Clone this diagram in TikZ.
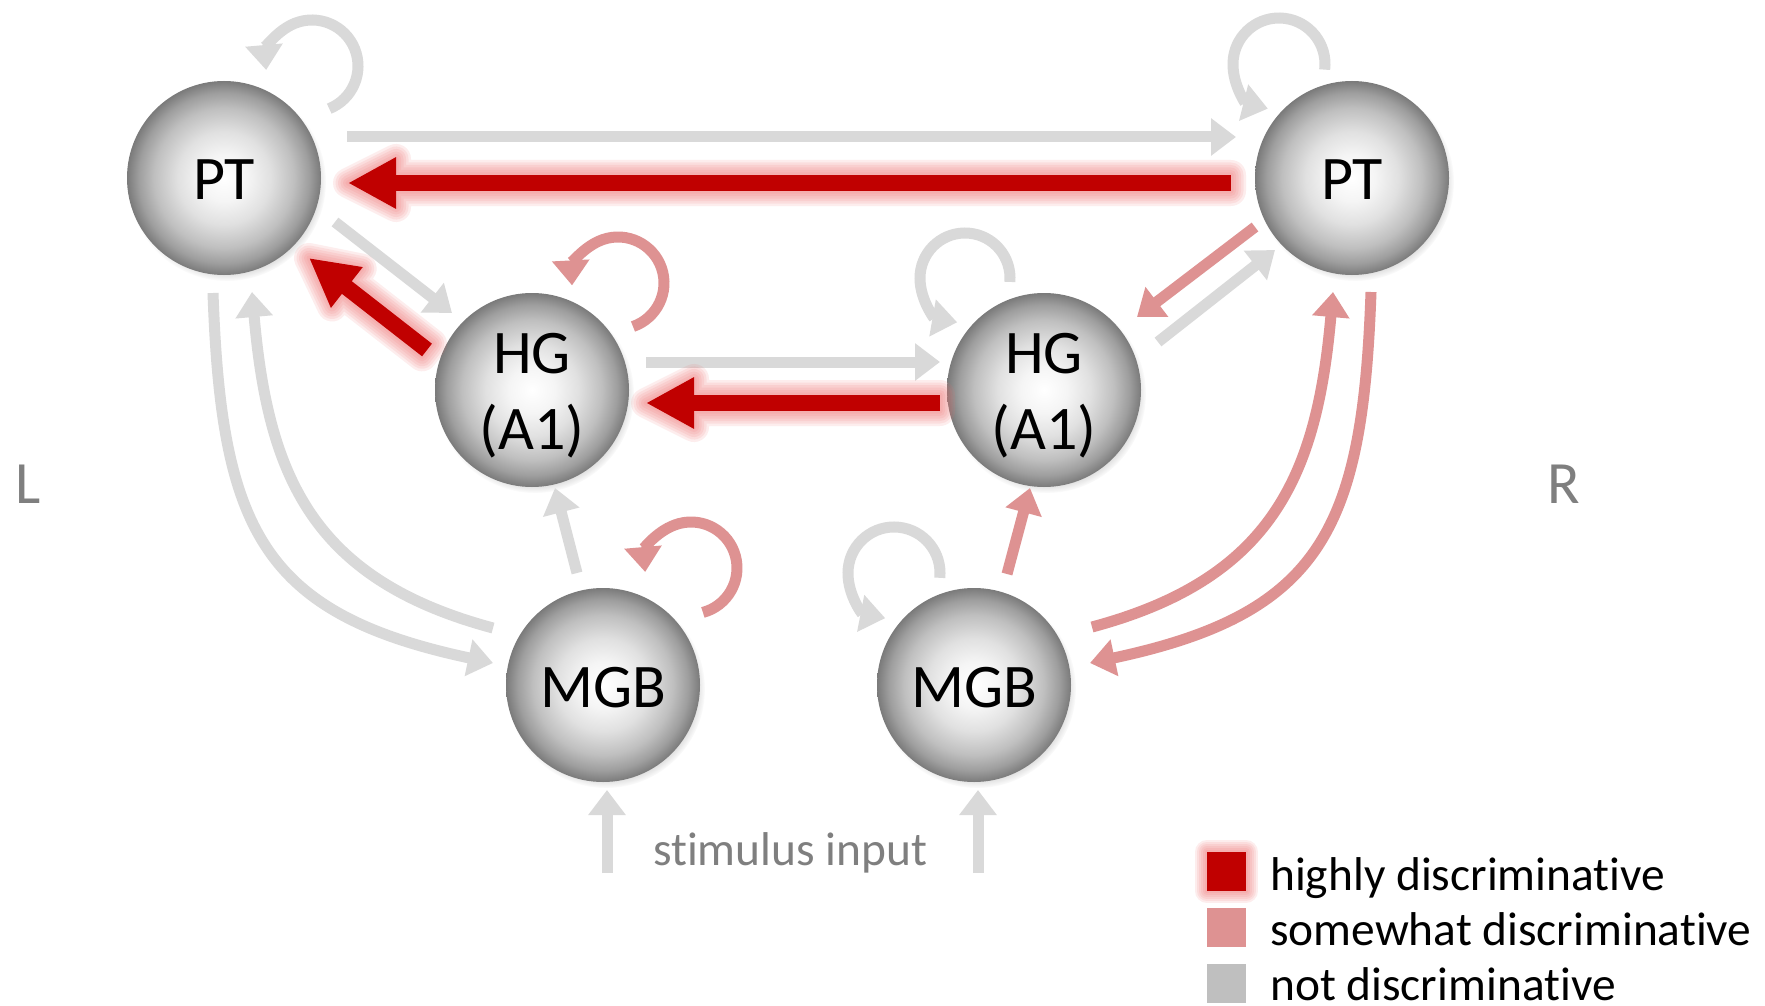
\documentclass[tikz,border=0pt]{standalone}
\usepackage{fontspec}
\setmainfont{Carlito}[Ligatures={NoCommon}]
\usetikzlibrary{arrows.meta,calc,shadows}

\definecolor{dred}{RGB}{192,0,0}
\definecolor{lred}{RGB}{222,146,146}
\definecolor{lgrey}{RGB}{217,217,217}
\definecolor{mgrey}{RGB}{191,191,191}
\definecolor{tgrey}{RGB}{127,127,127}
\definecolor{glowc}{RGB}{240,110,110}

\pgfdeclareradialshading{sphere}{\pgfpoint{0bp}{0bp}}{%
  color(0bp)=(white); color(6bp)=(white!96!black); color(12bp)=(black!12);
  color(18bp)=(black!25); color(22bp)=(black!38); color(25bp)=(black!52);
  color(50bp)=(black!52)}

\tikzset{
  ball/.style={circle, minimum size=194pt, inner sep=0pt, shading=sphere,
    circular drop shadow={shadow xshift=3pt, shadow yshift=-4pt, shadow scale=1.02, opacity=.45},
    font=\fontsize{62}{76}\selectfont, align=center, text height=44pt, text depth=0pt},
  twoline/.style={text height=118pt, text depth=0pt},
  thinar/.style={line width=11pt, -{Triangle[length=25pt,width=36pt]}},
  gar/.style={thinar, draw=lgrey},
  rar/.style={thinar, draw=lred},
  bigar/.style={line width=16pt, draw=dred, -{Triangle[length=48pt,width=48pt]}},
  glowline/.style={glowc, line join=round, opacity=0.12},
  legtext/.style={anchor=base west, inner sep=0pt, font=\fontsize{47.4}{57}\selectfont},
  sq/.style={minimum size=39pt, inner sep=0pt, draw=none}
}

\newcommand\glowarrow[2]{%
  \coordinate (gB) at ($(#2)!48pt!(#1)$);
  \coordinate (ga1) at ($(#1)!8pt!90:(#2)$);
  \coordinate (ga2) at ($(#1)!8pt!-90:(#2)$);
  \coordinate (gb1) at ($(gB)!8pt!90:(#2)$);
  \coordinate (gb2) at ($(gB)!8pt!-90:(#2)$);
  \coordinate (gc1) at ($(gB)!24pt!90:(#2)$);
  \coordinate (gc2) at ($(gB)!24pt!-90:(#2)$);
  \foreach \w in {30,25,20,15,10,5}{
    \draw[glowline, line width=\w pt]
      (ga1) -- (gb1) -- (gc1) -- (#2) -- (gc2) -- (gb2) -- (ga2) -- cycle;
  }
  \draw[bigar] (#1) -- (#2);
}

\begin{document}
\begin{tikzpicture}[x=1pt,y=1pt]
\fill[white] (0,0) rectangle (1765,-1006);
\useasboundingbox (0,0) rectangle (1765,-1006);

% nodes
\node[ball] (PTL) at (224,-178) {PT};
\node[ball] (PTR) at (1352,-178) {PT};
\node[ball, twoline] (HGL) at (532,-390) {HG\\(A1)};
\node[ball, twoline] (HGR) at (1044,-390) {HG\\(A1)};
\node[ball] (MGBL) at (603,-685) {MGB};
\node[ball] (MGBR) at (974,-685) {MGB};

\node[text=tgrey, font=\fontsize{60}{72}\selectfont] (Llab) at (28,-484) {L};
\node[text=tgrey, font=\fontsize{60}{72}\selectfont] (Rlab) at (1564,-484) {R};

% self loops
\draw[gar] ($(PTL)+(88,112)+(-68:46)$) arc[start angle=-68, end angle=185, radius=46];
\draw[rar] ($(HGL)+(86,107)+(-71:46)$) arc[start angle=-71, end angle=183, radius=46];
\draw[rar] ($(MGBL)+(88,117)+(-75:46)$) arc[start angle=-75, end angle=185, radius=46];
\draw[gar] ($(PTR)+(-73,114)+(-7:46)$) arc[start angle=-7, end angle=256, radius=46];
\draw[gar] ($(HGR)+(-79,112)+(-5:45)$) arc[start angle=-5, end angle=260, radius=45];
\draw[gar] ($(MGBR)+(-80,112)+(-6:46)$) arc[start angle=-6, end angle=259, radius=46];

% straight grey / light red connectors
\draw[gar] ($(PTL)+(123,41)$) -- ($(PTR)+(-116,41)$);
\draw[gar] ($(PTL)+(111,-44)$) -- ($(HGL)+(-80,77)$);
\draw[gar] ($(HGL)+(114,28)$) -- ($(HGR)+(-104,28)$);
\draw[gar] ($(MGBL)+(-26,112)$) -- ($(HGL)+(23,-98)$);
\draw[gar] ($(HGR)+(114,48)$) -- ($(PTR)+(-77,-72)$);
\draw[rar] ($(PTR)+(-97,-49)$) -- ($(HGR)+(93,73)$);
\draw[rar] ($(MGBR)+(33,111)$) -- ($(HGR)+(-14,-98)$);

% curved connectors
\draw[gar] ($(MGBL)+(-110,57)$) to[out=165, in=-85, looseness=1.15] ($(PTL)+(28,-114)$);
\draw[gar] ($(PTL)+(-11,-115)$) to[out=-88, in=168, looseness=1.3] ($(MGBL)+(-110,22)$);
\draw[rar] ($(MGBR)+(118,58)$) to[out=15, in=-95, looseness=1.15] ($(PTR)+(-19,-114)$);
\draw[rar] ($(PTR)+(19,-114)$) to[out=-92, in=12, looseness=1.3] ($(MGBR)+(116,22)$);

% stimulus input
\coordinate (inL) at ($(MGBL)+(4,-188)$);
\coordinate (inR) at ($(MGBR)+(4,-188)$);
\draw[gar] (inL) -- ($(MGBL)+(4,-105)$);
\draw[gar] (inR) -- ($(MGBR)+(4,-105)$);
\node[legtext, text=tgrey] (stim) at (653,-865) {stimulus input};

% highly discriminative connectors
\coordinate (b1) at ($(PTR)+(-121,-5)$);
\coordinate (b2) at ($(PTL)+(124,-5)$);
\glowarrow{b1}{b2}
\coordinate (d1) at ($(HGL)+(-105,40)$);
\coordinate (d2) at ($(PTL)+(85,-80)$);
\glowarrow{d1}{d2}
\coordinate (g1) at ($(HGR)+(-104,-13)$);
\coordinate (g2) at ($(HGL)+(114,-13)$);
\glowarrow{g1}{g2}

% legend
\foreach \w in {24,20,16,12,8,4}{
  \draw[glowline, line width=\w pt] (1207,-852) rectangle (1246,-891);
}
\node[sq, fill=dred, anchor=north west] (lg1) at (1207,-852) {};
\node[sq, fill=lred, anchor=north west] (lg2) at (1207,-908) {};
\node[sq, fill=mgrey, anchor=north west] (lg3) at (1207,-964) {};
\node[legtext] (lt1) at (1270,-890) {highly discriminative};
\node[legtext] (lt2) at (1270,-945) {somewhat discriminative};
\node[legtext] (lt3) at (1270,-1000) {not discriminative};
\end{tikzpicture}
\end{document}
